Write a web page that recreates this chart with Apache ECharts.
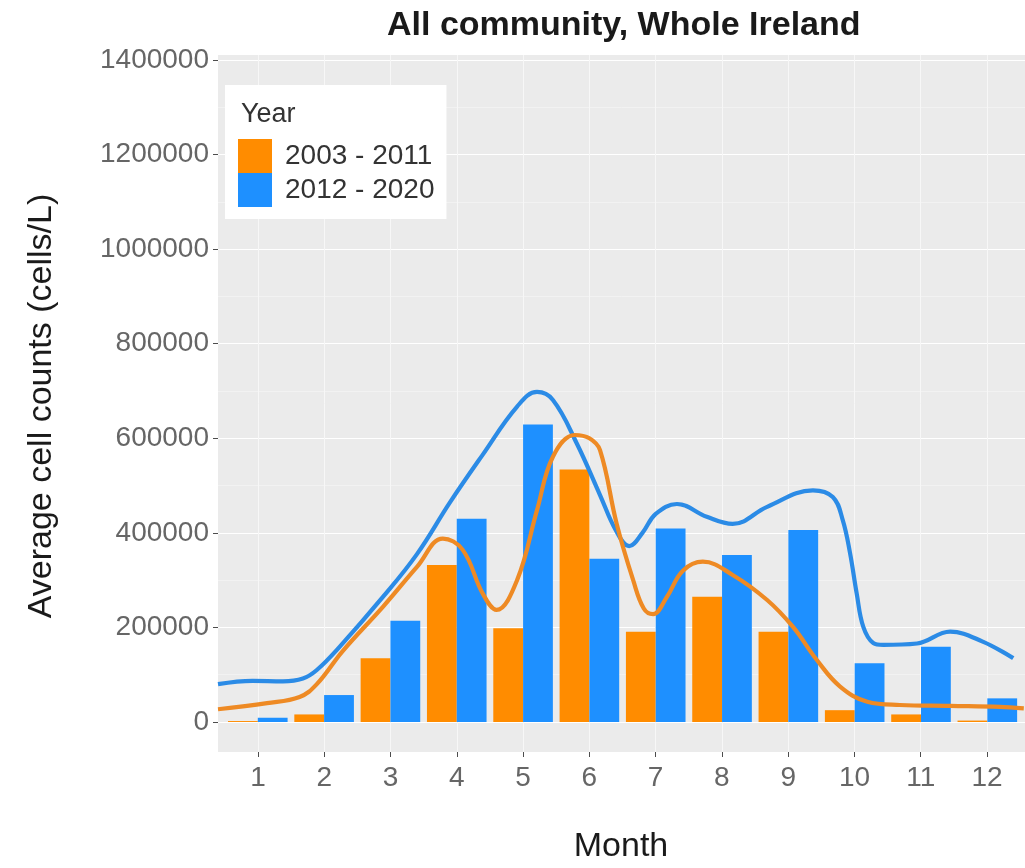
<!DOCTYPE html>
<html>
<head>
<meta charset="utf-8">
<title>All community, Whole Ireland</title>
<script src="https://cdn.jsdelivr.net/npm/echarts@6/dist/echarts.min.js"></script>
<style>
  html, body { margin: 0; padding: 0; background: #ffffff; }
  #chart { width: 1025px; height: 868px; }
</style>
</head>
<body>
<div id="chart"></div>
<script>
// Months on the x axis
const months = [1, 2, 3, 4, 5, 6, 7, 8, 9, 10, 11, 12];

// Average cell counts (cells/L) per month for each period
const counts2003_2011 = [2000, 16000, 135000, 332000, 198000, 534000, 191000, 265000, 191000, 25000, 16000, 3000];
const counts2012_2020 = [9000, 57000, 214000, 430000, 629000, 345000, 409000, 353000, 406000, 124000, 159000, 50000];

// Smoothed trend for each period, as [month, cells/L]
const trend2003_2011 = [
  [0.40, 27000], [1.14, 40000], [1.63, 53000], [1.89, 80000], [2.28, 150000],
  [2.89, 244000], [3.40, 328000], [3.79, 388000], [4.09, 364000], [4.39, 272000],
  [4.60, 237000], [4.91, 300000], [5.21, 448000], [5.45, 561000], [5.78, 607000],
  [6.00, 600000], [6.16, 575000], [6.41, 420000], [6.66, 300000], [6.82, 240000],
  [6.96, 228000], [7.17, 265000], [7.41, 320000], [7.71, 339000], [8.16, 311000],
  [8.68, 258000], [9.07, 201000], [9.43, 131000], [9.78, 75000], [10.19, 43000],
  [10.68, 36000], [11.44, 34000], [12.19, 32000], [12.55, 29000]
];
const trend2012_2020 = [
  [0.40, 80000], [0.92, 87000], [1.38, 86000], [1.68, 92000], [1.89, 110000],
  [2.24, 160000], [2.89, 265000], [3.40, 355000], [3.90, 465000], [4.39, 565000],
  [4.91, 667000], [5.21, 698000], [5.45, 681000], [5.81, 589000], [6.16, 480000],
  [6.40, 405000], [6.60, 372000], [6.80, 400000], [7.00, 440000], [7.32, 461000],
  [7.77, 434000], [8.16, 419000], [8.68, 455000], [9.37, 490000], [9.67, 476000],
  [9.82, 427000], [9.93, 357000], [10.03, 272000], [10.13, 201000], [10.28, 167000],
  [10.43, 163000], [10.94, 166000], [11.44, 191000], [11.93, 170000], [12.39, 135000]
];

// Y axis ticks
const yTickMin = 0;
const yTickMax = 1400000;
const yTickStep = 200000;

const periodNames = ['2003 - 2011', '2012 - 2020'];
const periodColors = ['#FF8C00', '#1E90FF'];
const trendColors = ['#EE8A24', '#2B8BE6'];

const FONT = "'Liberation Sans', Arial, sans-serif";
const tickText = { fontFamily: FONT, fontSize: 28, color: '#666666' };

const chart = echarts.init(document.getElementById('chart'), null, { renderer: 'canvas' });

const option = {
  animation: false,
  backgroundColor: '#ffffff',
  title: [
    {
      text: 'All community, Whole Ireland',
      left: 382, top: 4,
      textStyle: { fontFamily: FONT, fontSize: 34, fontWeight: 'bold', color: '#1a1a1a' }
    },
    {
      text: 'Year',
      left: 236, top: 96,
      textStyle: { fontFamily: FONT, fontSize: 27, fontWeight: 'normal', color: '#333333' }
    }
  ],
  legend: {
    data: periodNames,
    orient: 'vertical',
    left: 225, top: 85,
    padding: [54, 12, 12, 13],
    backgroundColor: '#ffffff',
    icon: 'rect',
    itemWidth: 34, itemHeight: 34, itemGap: 0,
    textStyle: { fontFamily: FONT, fontSize: 28, color: '#333333', padding: [0, 0, 0, 8] }
  },
  grid: [
    // panel background
    { left: 218, top: 55, width: 807, height: 697, show: true, backgroundColor: '#EBEBEB', borderWidth: 0 },
    // month gridlines and labels
    { left: 258, top: 55, width: 729, height: 697 },
    // value scale and data
    { left: 218, top: 60, width: 807, height: 662 }
  ],
  xAxis: [
    { gridIndex: 0, type: 'value', show: false, min: 0, max: 1 },
    {
      gridIndex: 1, type: 'value', min: 1, max: 12, interval: 1,
      axisLine: { show: false },
      axisTick: { show: true, length: 5, lineStyle: { color: '#4d4d4d', width: 1 } },
      axisLabel: Object.assign({ margin: 12 }, tickText),
      splitLine: { show: true, lineStyle: { color: '#F7F7F7', width: 1 } }
    },
    { gridIndex: 2, type: 'value', show: false, min: 0.4, max: 12.568 }
  ],
  yAxis: [
    { gridIndex: 0, type: 'value', show: false },
    { gridIndex: 1, type: 'value', show: false },
    {
      gridIndex: 2, type: 'value', min: yTickMin, max: yTickMax, interval: yTickStep,
      axisLine: { show: false },
      axisTick: { show: true, length: 5, lineStyle: { color: '#4d4d4d', width: 1 } },
      axisLabel: Object.assign({ margin: 9, formatter: (v) => String(v) }, tickText),
      splitLine: { show: true, lineStyle: { color: '#ffffff', width: 1.2 } },
      minorTick: { show: false, splitNumber: 2 },
      minorSplitLine: { show: true, lineStyle: { color: '#F5F5F5', width: 0.7 } }
    }
  ],
  graphic: [
    {
      type: 'text', x: 42, y: 406, rotation: Math.PI / 2,
      style: {
        text: 'Average cell counts (cells/L)',
        font: '34px ' + FONT, fill: '#1a1a1a',
        textAlign: 'center', textVerticalAlign: 'middle'
      }
    },
    {
      type: 'text', x: 621, y: 847,
      style: {
        text: 'Month',
        font: '34px ' + FONT, fill: '#1a1a1a',
        textAlign: 'center', textVerticalAlign: 'middle'
      }
    }
  ],
  series: [
    {
      name: periodNames[0], type: 'bar', xAxisIndex: 2, yAxisIndex: 2,
      data: months.map((m, i) => [m, counts2003_2011[i]]),
      barWidth: 29.8, barGap: '0%',
      itemStyle: { color: periodColors[0] }
    },
    {
      name: periodNames[1], type: 'bar', xAxisIndex: 2, yAxisIndex: 2,
      data: months.map((m, i) => [m, counts2012_2020[i]]),
      barWidth: 29.8, barGap: '0%',
      itemStyle: { color: periodColors[1] }
    },
    {
      name: periodNames[0], type: 'line', xAxisIndex: 2, yAxisIndex: 2,
      data: trend2003_2011, smooth: 0.4, showSymbol: false, clip: false, z: 4,
      lineStyle: { color: trendColors[0], width: 4.2 },
      itemStyle: { color: trendColors[0] }
    },
    {
      name: periodNames[1], type: 'line', xAxisIndex: 2, yAxisIndex: 2,
      data: trend2012_2020, smooth: 0.4, showSymbol: false, clip: false, z: 3,
      lineStyle: { color: trendColors[1], width: 4.2 },
      itemStyle: { color: trendColors[1] }
    }
  ]
};

chart.setOption(option);
</script>
</body>
</html>
